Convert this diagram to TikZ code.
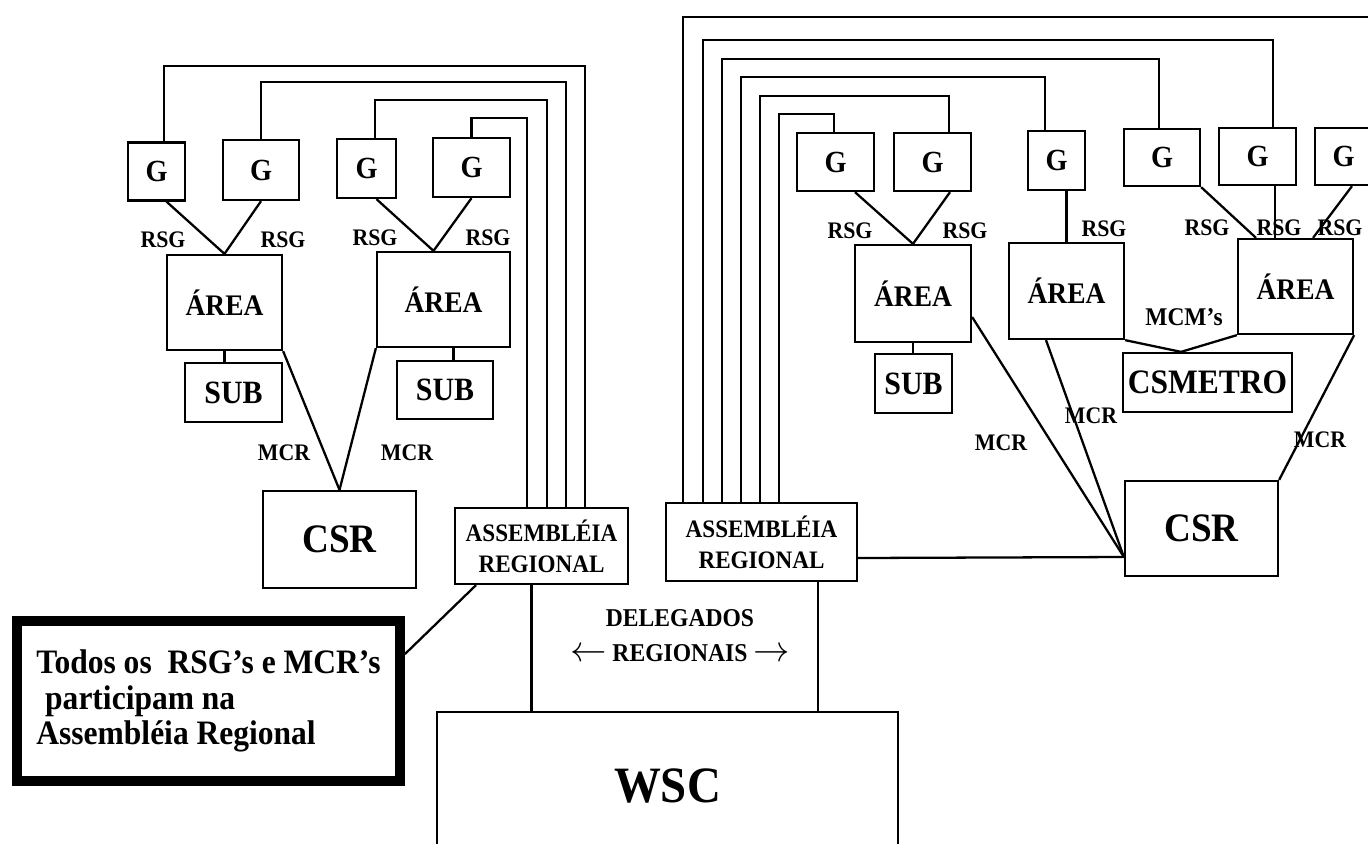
\documentclass[tikz,border=0pt]{standalone}
\usepackage{fontspec}
\setmainfont{Liberation Serif}[FakeStretch=0.92]

\begin{document}
\begin{tikzpicture}[x=0.02cm, y=-0.02cm,
  box/.style={draw, line width=1.3pt, inner sep=0pt, align=center},
  gbox/.style={box, minimum height=1.16cm, font=\fontsize{17.5}{19}\selectfont\bfseries},
  areabox/.style={box, minimum width=2.3cm, minimum height=1.9cm, font=\fontsize{17}{19}\selectfont\bfseries},
  subbox/.style={box, minimum height=1.18cm, font=\fontsize{18.5}{20}\selectfont\bfseries},
  csrbox/.style={box, minimum width=3.06cm, minimum height=1.92cm, font=\fontsize{23}{25}\selectfont\bfseries},
  asmbox/.style={box, font=\fontsize{14.3}{17.6}\selectfont\bfseries},
  tag/.style={inner sep=0pt, font=\fontsize{13.5}{15}\selectfont\bfseries},
  link/.style={line width=1.3pt}
]
  \fill[white] (0,0) rectangle (1368,843);
  \useasboundingbox (0,0) rectangle (1368,843);

  % Left region
  \node[gbox, minimum width=1.14cm] (g1) at (156.5,171.5) {G};
  \node[gbox, minimum width=1.52cm, minimum height=1.2cm] (g2) at (261,170) {G};
  \node[gbox, minimum width=1.18cm, minimum height=1.18cm] (g3) at (366.5,168.5) {G};
  \node[gbox, minimum width=1.54cm, minimum height=1.18cm] (g4) at (471.5,167.5) {G};
  \node[areabox] (areaL1) at (224.5,302.5) {ÁREA};
  \node[areabox, minimum width=2.66cm] (areaL2) at (443.5,299.5) {ÁREA};
  \node[subbox, minimum width=1.94cm] (subL1) at (233.5,392.5) {SUB};
  \node[subbox, minimum width=1.92cm, minimum height=1.16cm] (subL2) at (445,390) {SUB};
  \node[csrbox, minimum height=1.94cm] (csrL) at (339.5,539.5) {CSR};
  \node[asmbox, minimum width=3.46cm, minimum height=1.52cm] (asmL) at (541.5,546) {ASSEMBLÉIA\\REGIONAL};

  % Right region
  \node[gbox, minimum width=1.54cm] (g5) at (835.5,162) {G};
  \node[gbox, minimum width=1.54cm] (g6) at (932.5,162) {G};
  \node[gbox, minimum width=1.14cm, minimum height=1.18cm] (g7) at (1056.5,160.5) {G};
  \node[gbox, minimum width=1.52cm, minimum height=1.14cm] (g8) at (1162,157.5) {G};
  \node[gbox, minimum width=1.54cm, minimum height=1.14cm] (g9) at (1257.5,156.5) {G};
  \node[gbox, minimum width=1.14cm, minimum height=1.14cm] (g10) at (1343.5,156.5) {G};
  \node[areabox, minimum width=2.32cm, minimum height=1.94cm] (areaR1) at (913,293.5) {ÁREA};
  \node[areabox, minimum height=1.92cm] (areaR2) at (1066.5,291) {ÁREA};
  \node[areabox] (areaR3) at (1295.5,286.5) {ÁREA};
  \node[subbox, minimum width=1.54cm] (subR) at (913.5,383.5) {SUB};
  \node[box, minimum width=3.38cm, minimum height=1.18cm, font=\fontsize{19.5}{21}\selectfont\bfseries] (csmetro) at (1207.5,382.5) {CSMETRO};
  \node[csrbox, minimum height=1.9cm] (csrR) at (1201.5,528.5) {CSR};
  \node[asmbox, minimum width=3.82cm, minimum height=1.56cm] (asmR) at (761.5,542) {ASSEMBLÉIA\\REGIONAL};

  % World level and note
  \node[box, minimum width=9.22cm, minimum height=2.96cm, font=\fontsize{29}{31}\selectfont\bfseries] (wsc) at (667.5,786) {WSC};
  \node[box, line width=5.7pt, minimum width=7.66cm, minimum height=3.2cm, align=left, font=\fontsize{19.5}{20.3}\selectfont\bfseries] (todos) at (208.5,701)
    {Todos os~ RSG’s e MCR’s\\\hspace*{5pt}participam na\\Assembléia Regional};

  % Labels
  \node[tag] (rsg1) at (163,240) {RSG};
  \node[tag] (rsg2) at (283,240) {RSG};
  \node[tag] (rsg3) at (375,238) {RSG};
  \node[tag] (rsg4) at (488,238) {RSG};
  \node[tag] (rsg5) at (850,231) {RSG};
  \node[tag] (rsg6) at (965,231) {RSG};
  \node[tag] (rsg7) at (1104,229) {RSG};
  \node[tag] (rsg8) at (1207,228) {RSG};
  \node[tag] (rsg9) at (1279,228) {RSG};
  \node[tag] (rsg10) at (1340,228) {RSG};
  \node[tag] (mcr1) at (284,453) {MCR};
  \node[tag] (mcr2) at (407,453) {MCR};
  \node[tag] (mcr3) at (1001,443) {MCR};
  \node[tag] (mcr4) at (1091,416) {MCR};
  \node[tag] (mcr5) at (1320,440) {MCR};
  \node[tag, font=\fontsize{14.5}{16}\selectfont\bfseries] (mcms) at (1184,317) {MCM’s};
  \node[tag, align=center, font=\fontsize{14.6}{20}\selectfont\bfseries] (deleg) at (680,636)
    {DELEGADOS\\{\fontsize{20}{20}\selectfont$\leftarrow$} REGIONAIS {\fontsize{20}{20}\selectfont$\rightarrow$}};

  % Groups to areas
  \draw[link] ([xshift=2mm]g1.south) -- (areaL1.north);
  \draw[link] (g2.south) -- (areaL1.north);
  \draw[link] ([xshift=2mm]g3.south) -- ([xshift=-2mm]areaL2.north);
  \draw[link] (g4.south) -- ([xshift=-2mm]areaL2.north);
  \draw[link] ([xshift=3.9mm]g5.south) -- (areaR1.north);
  \draw[link] ([xshift=3.5mm]g6.south) -- (areaR1.north);
  \draw[link] (areaR2.north) -- (areaR2.north |- g7.south);
  \draw[link] (g8.south east) -- ([xshift=-7.9mm]areaR3.north);
  \draw[link] ([xshift=3.5mm]g9.south) coordinate (g9b) -- (g9b |- areaR3.north);
  \draw[link] ([xshift=1.7mm]g10.south) -- ([xshift=3.5mm]areaR3.north);

  % Areas to subcommittees
  \draw[link] (areaL1.south) -- (areaL1.south |- subL1.north);
  \draw[link] ([xshift=2mm]areaL2.south) coordinate (a2s) -- (a2s |- subL2.north);
  \draw[link] (areaR1.south) -- (areaR1.south |- subR.north);

  % MCR to regional committees
  \draw[link] (areaL1.south east) -- (csrL.north);
  \draw[link] (areaL2.south west) -- (csrL.north);
  \coordinate (hub) at ([yshift=-5.7mm]csrR.west);
  \draw[link] ([yshift=-4.7mm]areaR1.east) -- (hub);
  \draw[link] ([xshift=-4.1mm]areaR2.south) -- (hub);
  \draw[link] (areaR3.south east) -- (csrR.north east);
  \draw[link] ([yshift=-3.2mm]asmR.east) -- (hub);

  % MCM's
  \coordinate (apex) at ([xshift=-5.3mm]csmetro.north);
  \draw[link] (areaR2.south east) -- (apex) -- (areaR3.south west);

  % GSR lines to the assemblies
  \foreach \ax/\rise/\grp/\gx in {8.7/441/g1/1.5, 4.9/425/g2/0, 1.1/407/g3/1.7, -2.9/389/g4/0}
    \draw[link] ([xshift=\ax mm]asmL.north) -- ++(0,-\rise) -| ([xshift=\gx mm]\grp.north);
  \foreach \ax/\rise/\grp/\gx in {3.5/388/g5/-0.3, -0.3/406/g6/3.3, -4.1/425/g7/-2.3, -7.9/443/g8/-0.6, -11.7/462/g9/3.1, -15.7/485/g10/5.3}
    \draw[link] ([xshift=\ax mm]asmR.north) -- ++(0,-\rise) -| ([xshift=\gx mm]\grp.north);

  % Delegates and note
  \draw[link] ([xshift=-2mm]asmL.south) coordinate (dl) -- (dl |- wsc.north);
  \draw[link] ([xshift=11.3mm]asmR.south) coordinate (dr) -- (dr |- wsc.north);
  \draw[link] ([xshift=-13.1mm]asmL.south) -- ([yshift=9.4mm]todos.east);

\end{tikzpicture}
\end{document}
